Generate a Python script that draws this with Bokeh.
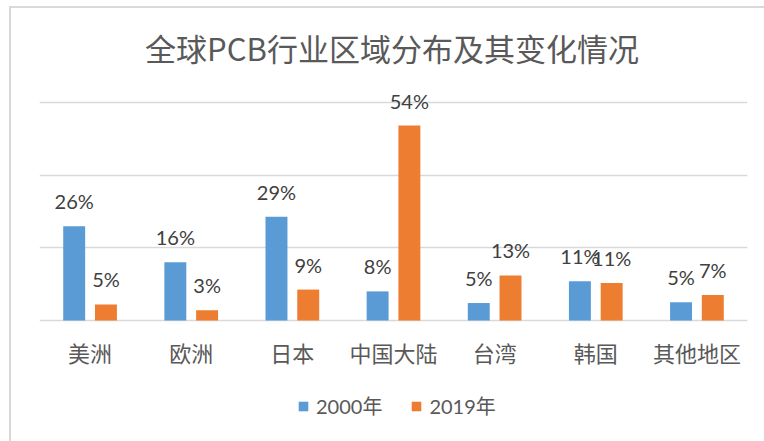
from bokeh.plotting import figure
from bokeh.models import ColumnDataSource, Range1d, FixedTicker, Legend, LegendItem, Label
from bokeh.transform import dodge
from bokeh.core.properties import value
from bokeh.embed import file_html
from bokeh.resources import INLINE

categories = ["美洲", "欧洲", "日本", "中国大陆", "台湾", "韩国", "其他地区"]
share_2000 = [25.9, 16.0, 28.5, 8.0, 4.8, 10.8, 5.0]
share_2019 = [4.4, 2.8, 8.5, 53.6, 12.4, 10.3, 7.0]
labels_2000 = ["26%", "16%", "29%", "8%", "5%", "11%", "5%"]
labels_2019 = ["5%", "3%", "9%", "54%", "13%", "11%", "7%"]
series_names = ["2000年", "2019年"]
y_ticks = [0, 20, 40, 60]
title_text = "全球PCB行业区域分布及其变化情况"

BLUE = "#5B9BD5"
ORANGE = "#ED7D31"
GRID = "#d9d9d9"
TEXT = "#595959"

src = ColumnDataSource(dict(cat=categories, v2000=share_2000, v2019=share_2019,
                            l2000=labels_2000, l2019=labels_2019))

# frame spans full height; 0 sits 320px from top, 3.636 px per percent
p = figure(x_range=categories, y_range=Range1d(-33.28, 88.0), width=764, height=441,
           output_backend="svg", toolbar_location=None,
           x_axis_location=None, y_axis_location=None,
           min_border_left=39, min_border_right=17, min_border_top=0, min_border_bottom=0)
p.outline_line_color = None
p.border_fill_color = None
p.background_fill_color = None
p.xgrid.visible = False
p.ygrid.ticker = FixedTicker(ticks=y_ticks)
p.ygrid.grid_line_color = GRID
p.ygrid.grid_line_width = 1.5

r1 = p.vbar(x=dodge("cat", -0.157, range=p.x_range), top="v2000", width=0.217,
            source=src, fill_color=BLUE, line_color=None)
r2 = p.vbar(x=dodge("cat", 0.157, range=p.x_range), top="v2019", width=0.217,
            source=src, fill_color=ORANGE, line_color=None)

for off, ycol, tcol in [(-0.157, "v2000", "l2000"), (0.157, "v2019", "l2019")]:
    p.text(x=dodge("cat", off, range=p.x_range), y=ycol, text=tcol, source=src,
           text_align="center", text_baseline="alphabetic", y_offset=-25,
           text_font=value("Lato"), text_font_size="20px", text_color="#404040")

# category labels under the baseline
p.text(x="cat", y=0, text="cat", source=src, text_align="center", text_baseline="middle",
       y_offset=32, text_font=value("Noto Sans CJK SC"), text_font_size="22px",
       text_color=TEXT)

p.add_layout(Label(x=352.5, y=394, x_units="screen", y_units="screen", text=title_text,
                   text_align="center", text_baseline="middle",
                   text_font="Noto Sans CJK SC", text_font_size="31px",
                   text_color=TEXT))

legend = Legend(items=[LegendItem(label=series_names[0], renderers=[r1]),
                       LegendItem(label=series_names[1], renderers=[r2])],
                orientation="horizontal", location=(258, 21),
                border_line_color=None, background_fill_alpha=0,
                glyph_width=12, glyph_height=12, label_standoff=7, spacing=28,
                label_text_font="Lato, 'Noto Sans CJK SC'", label_text_font_size="20px",
                label_text_color=TEXT, margin=0, padding=8)
p.add_layout(legend, "center")

p.styles = {
    "background-image": "linear-gradient(#d9d9d9,#d9d9d9), linear-gradient(#d9d9d9,#d9d9d9)",
    "background-size": "2px 100%, 100% 2px",
    "background-position": "9px 6px, 9px 6px",
    "background-repeat": "no-repeat",
}

open("out.html", "w").write(file_html(p, INLINE))
